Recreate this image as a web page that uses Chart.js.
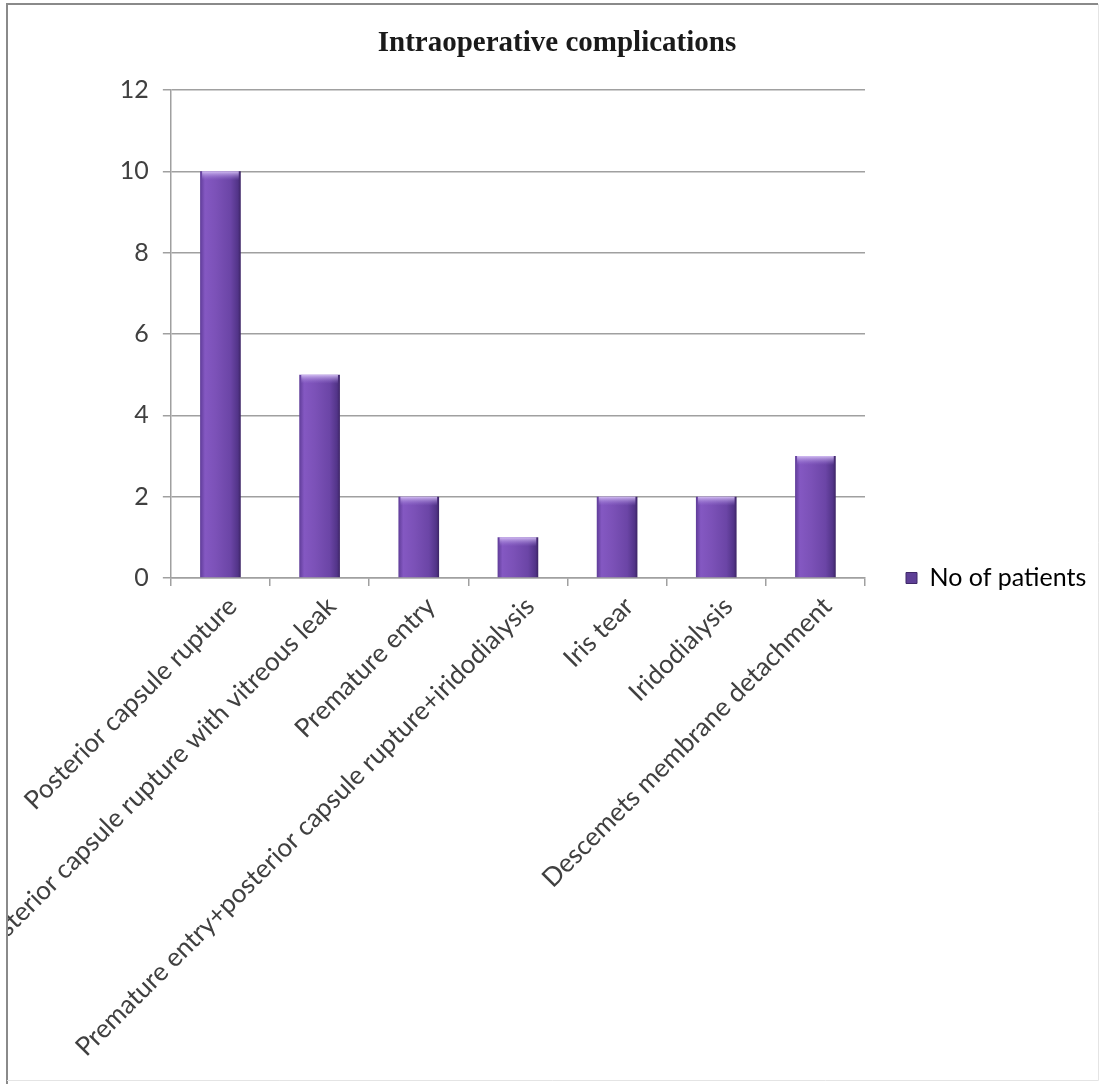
<!DOCTYPE html>
<html>
<head>
<meta charset="utf-8">
<script src="https://cdn.jsdelivr.net/npm/chart.js@4/dist/chart.umd.min.js"></script>
<style>
  html, body { margin: 0; padding: 0; background: #fff; }
  #wrap { width: 1104px; height: 1084px; }
</style>
</head>
<body>
<div id="wrap"><canvas id="complications" width="1104" height="1084"></canvas></div>
<script>
// complications seen during surgery
var categories = [
    'Posterior capsule rupture',
    'Posterior capsule rupture with vitreous leak',
    'Premature entry',
    'Premature entry+posterior capsule rupture+iridodialysis',
    'Iris tear',
    'Iridodialysis',
    'Descemets membrane detachment'
];
var patients = [10, 5, 2, 1, 2, 2, 3];
var seriesName = 'No of patients';
var chartTitle = 'Intraoperative complications';
var yTicks = [0, 2, 4, 6, 8, 10, 12];

var fontFamily = 'Lato, "Liberation Sans", sans-serif';
var labelFont = { family: fontFamily, size: 25 };
var textColor = '#404040';
var gridColor = '#a0a0a0';

// plot box edges
var plotLeft = 170, plotTop = 90, plotRight = 865, plotBottom = 578;
var legendGap = 41, legendBox = 11;

// work out how wide the legend will be so the plot ends where it should
var mctx = document.createElement('canvas').getContext('2d');
mctx.font = labelFont.size + 'px ' + fontFamily;
var legendWidth = legendGap + legendBox + labelFont.size / 2 + mctx.measureText(seriesName).width + 10;
var padRight = Math.max(0, 1104 - plotRight - legendWidth);
var padLeft = padRight + 10;

function barGradient(ctx) {
    var chart = ctx.chart;
    var xs = chart.scales.x;
    if (!chart.chartArea || !xs || ctx.dataIndex === undefined) return '#6f48ac';
    var cx = xs.getPixelForValue(ctx.dataIndex);
    var half = (xs.width / categories.length) * 0.41 / 2;
    var g = chart.ctx.createLinearGradient(cx - half, 0, cx + half, 0);
    g.addColorStop(0, '#5f3c98');
    g.addColorStop(0.12, '#8458c2');
    g.addColorStop(0.4, '#7b51b7');
    g.addColorStop(0.75, '#6b45a6');
    g.addColorStop(0.93, '#523488');
    g.addColorStop(1, '#3c2464');
    return g;
}

// light cap on top of each bar
var barCaps = {
    id: 'barCaps',
    afterDatasetsDraw: function(chart) {
        var c = chart.ctx;
        chart.getDatasetMeta(0).data.forEach(function(bar) {
            var w = bar.width, x0 = bar.x - w / 2, top = bar.y;
            var g = c.createLinearGradient(0, top, 0, top + 9);
            g.addColorStop(0, 'rgba(215,195,245,0.95)');
            g.addColorStop(1, 'rgba(150,115,210,0)');
            c.save();
            c.fillStyle = g;
            c.fillRect(x0 + 2, top, w - 4, 9);
            c.restore();
        });
    }
};

// keep the legend entry level with the base of the plot
var legendAtBase = {
    id: 'legendAtBase',
    afterLayout: function(chart) {
        var l = chart.legend;
        var h = l.bottom - l.top;
        var mid = chart.chartArea.bottom;
        l.top = mid - h / 2;
        l.bottom = mid + h / 2;
    }
};

// page frame, also trims labels running past the left edge
var frame = {
    id: 'frame',
    afterDraw: function(chart) {
        var c = chart.ctx;
        c.save();
        c.fillStyle = '#ffffff';
        c.fillRect(0, 0, 6, chart.height);
        c.fillRect(0, 0, chart.width, 3);
        c.strokeStyle = '#8a8a8a';
        c.lineWidth = 2;
        c.beginPath();
        c.moveTo(7, chart.height);
        c.lineTo(7, 4);
        c.lineTo(1098, 4);
        c.stroke();
        c.strokeStyle = '#e4e4e4';
        c.lineWidth = 1;
        c.beginPath();
        c.moveTo(1098.5, 4);
        c.lineTo(1098.5, 1080.5);
        c.lineTo(7, 1080.5);
        c.stroke();
        c.restore();
    }
};

var ctx = document.getElementById('complications').getContext('2d');
var myChart = new Chart(ctx, {
    type: 'bar',
    data: {
        labels: categories,
        datasets: [{
            label: seriesName,
            data: patients,
            backgroundColor: barGradient,
            borderWidth: 0,
            categoryPercentage: 1,
            barPercentage: 0.41
        }]
    },
    options: {
        responsive: false,
        animation: false,
        layout: {
            padding: { left: padLeft, right: padRight, top: 0, bottom: 0 }
        },
        plugins: {
            title: {
                display: true,
                text: chartTitle,
                color: '#1a1a1a',
                font: { family: '"Liberation Serif", "Times New Roman", serif', size: 29, weight: 'bold' },
                padding: { top: 26.6, bottom: 28.6 }
            },
            legend: {
                position: 'right',
                align: 'center',
                labels: {
                    color: textColor,
                    font: labelFont,
                    boxWidth: legendBox,
                    boxHeight: legendBox,
                    padding: legendGap,
                    generateLabels: function() {
                        return [{
                            text: seriesName,
                            fillStyle: '#5e3f96',
                            strokeStyle: '#3f2868',
                            lineWidth: 1,
                            hidden: false,
                            datasetIndex: 0
                        }];
                    }
                }
            },
            tooltip: { enabled: false }
        },
        scales: {
            x: {
                afterFit: function(scale) { scale.height = 1084 - plotBottom; },
                grid: {
                    drawOnChartArea: false,
                    color: gridColor,
                    lineWidth: 1.5,
                    tickLength: 8
                },
                border: { color: gridColor, width: 1.5 },
                ticks: {
                    autoSkip: false,
                    minRotation: 45,
                    maxRotation: 45,
                    color: textColor,
                    font: { family: fontFamily, size: 26 },
                    padding: 5,
                    labelOffset: 12
                }
            },
            y: {
                min: 0,
                max: 12,
                afterFit: function(scale) { scale.width = plotLeft - padLeft; },
                afterBuildTicks: function(scale) {
                    scale.ticks = yTicks.map(function(v) { return { value: v }; });
                },
                grid: {
                    color: gridColor,
                    lineWidth: 1.5,
                    tickLength: 8
                },
                border: { color: gridColor, width: 1.5 },
                ticks: {
                    color: textColor,
                    font: { family: fontFamily, size: 25 },
                    padding: 14
                }
            }
        }
    },
    plugins: [barCaps, legendAtBase, frame]
});
</script>
</body>
</html>
